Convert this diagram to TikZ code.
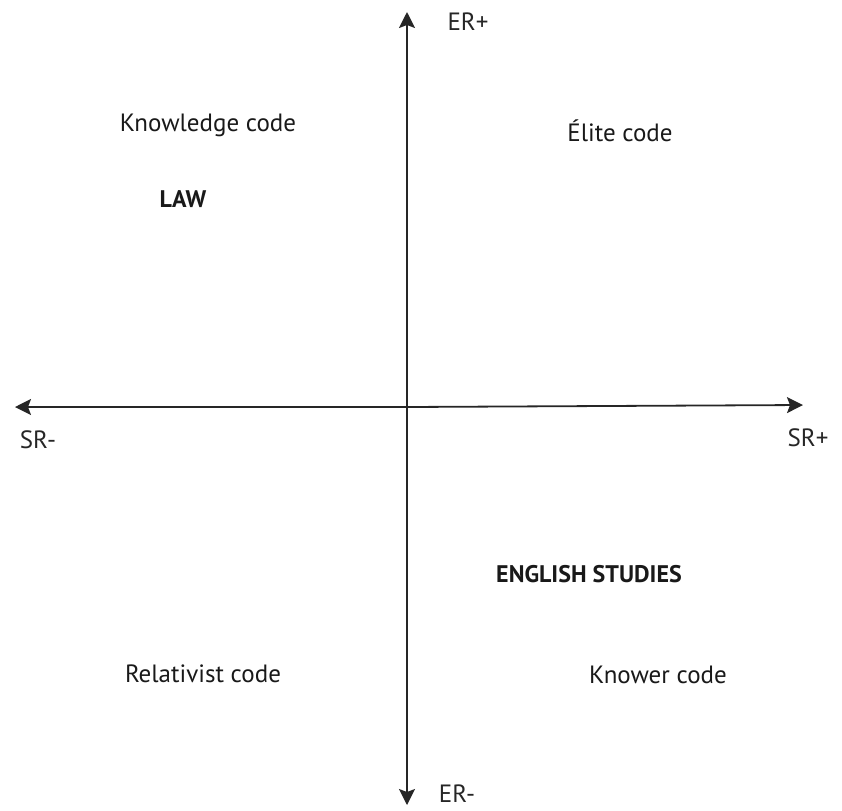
\documentclass[tikz,border=0pt]{standalone}
\usepackage{fontspec}
\setmainfont{PT Sans}
\usetikzlibrary{arrows.meta,positioning}

\begin{document}
\begin{tikzpicture}[x=0.5pt, y=-0.5pt,
    axis/.style = {draw=black!85, line width=0.9pt, arrows={-Stealth[length=8pt, width=8pt, inset=1.5pt, fill=black!85]}},
    codelabel/.style = {font=\fontsize{12.5}{14}\selectfont, text=black!90},
    fieldlabel/.style = {font=\fontsize{12}{14}\selectfont\bfseries, text=black!90},
    axislabel/.style = {font=\fontsize{12.5}{14}\selectfont, text=black!85, inner sep=0pt}]

    \useasboundingbox (0,0) rectangle (842,810);

    % axes
    \coordinate (top) at (407,12);
    \coordinate (bottom) at (407,805);
    \coordinate (left) at (15,407);
    \coordinate (right) at (803,405);
    \coordinate (origin) at (407,407);

    \draw [axis] (origin) -- (top);
    \draw [axis] (origin) -- (bottom);
    \draw [axis] (origin) -- (left);
    \draw [axis] (origin) -- (right);

    \node[axislabel] (erplus) at (468,22) {ER+};
    \node[axislabel] (erminus) at (457,794) {ER-};
    \node[axislabel] (srminus) at (38,440) {SR-};
    \node[axislabel] (srplus) at (808,438) {SR+};

    % codes
    \node[codelabel] (knowledge) at (208,125) {Knowledge code};
    \node[codelabel] (elite) at (620,131) {Élite code};
    \node[codelabel] (relativist) at (203,674) {Relativist code};
    \node[codelabel] (knower) at (658,675) {Knower code};

    % fields
    \node[fieldlabel] (law) at (183,199) {LAW};
    \node[fieldlabel] (english) at (589,574) {ENGLISH STUDIES};
\end{tikzpicture}
\end{document}
